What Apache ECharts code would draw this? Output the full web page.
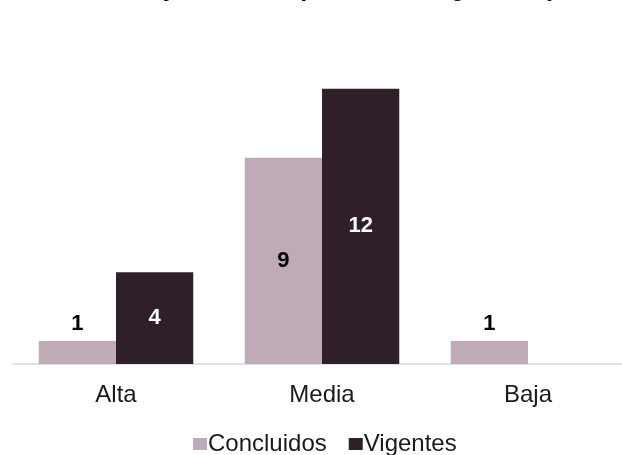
<!DOCTYPE html>
<html>
<head>
<meta charset="utf-8">
<script src="https://cdn.jsdelivr.net/npm/echarts@6/dist/echarts.min.js"></script>
<style>
html,body{margin:0;padding:0;background:#fff;}
#c{width:622px;height:455px;}
</style>
</head>
<body>
<div id="c"></div>
<script>
const titleText = 'Proyectos con prioridad, según el tipo';
const categories = ['Alta', 'Media', 'Baja'];
const seriesNames = ['Concluidos', 'Vigentes'];
const concluidos = [1, 9, 1];
const vigentes = [4, 12, 0];

const FONT = '"Liberation Sans", Arial, sans-serif';
const colors = ['#BEABB7', '#2E1F28'];
const labelColors = ['#000000', '#FFFFFF'];

function items(values, idx) {
  return values.map(v => ({
    value: v,
    label: v < 2
      ? { position: 'top', distance: 6, color: '#000000' }
      : { position: 'inside', color: labelColors[idx] }
  }));
}

const chart = echarts.init(document.getElementById('c'), null, { renderer: 'canvas' });
chart.setOption({
  animation: false,
  backgroundColor: '#ffffff',
  textStyle: { fontFamily: FONT },
  title: {
    text: titleText,
    left: 121,
    top: -23,
    padding: 0,
    textStyle: { fontFamily: FONT, fontSize: 25, fontWeight: 'bold', color: '#000000' }
  },
  legend: {
    data: seriesNames,
    top: 427,
    left: 188,
    icon: 'rect',
    itemWidth: 14,
    itemHeight: 12,
    itemGap: 22,
    textStyle: { fontFamily: FONT, fontSize: 24, color: '#1a1a1a', padding: [0, 0, 0, -4] }
  },
  grid: { left: 13, right: -9, top: 43, bottom: 91, containLabel: false, outerBoundsMode: 'none' },
  xAxis: {
    type: 'category',
    data: categories,
    axisLine: { show: true, lineStyle: { color: '#D9D9D9', width: 1.5 } },
    axisTick: { show: false },
    axisLabel: { fontFamily: FONT, fontSize: 24, color: '#1a1a1a', margin: 19 }
  },
  yAxis: {
    type: 'value',
    min: 0,
    max: 14,
    show: false,
    splitLine: { show: false }
  },
  series: [
    {
      name: seriesNames[0],
      type: 'bar',
      data: items(concluidos, 0),
      itemStyle: { color: colors[0] },
      barGap: '0%',
      barCategoryGap: '25%',
      label: {
        show: true,
        fontFamily: FONT,
        fontSize: 22,
        fontWeight: 'bold',
        formatter: p => (p.value ? String(p.value) : '')
      }
    },
    {
      name: seriesNames[1],
      type: 'bar',
      data: items(vigentes, 1),
      itemStyle: { color: colors[1] },
      barGap: '0%',
      barCategoryGap: '25%',
      label: {
        show: true,
        fontFamily: FONT,
        fontSize: 22,
        fontWeight: 'bold',
        formatter: p => (p.value ? String(p.value) : '')
      }
    }
  ]
});
</script>
</body>
</html>
